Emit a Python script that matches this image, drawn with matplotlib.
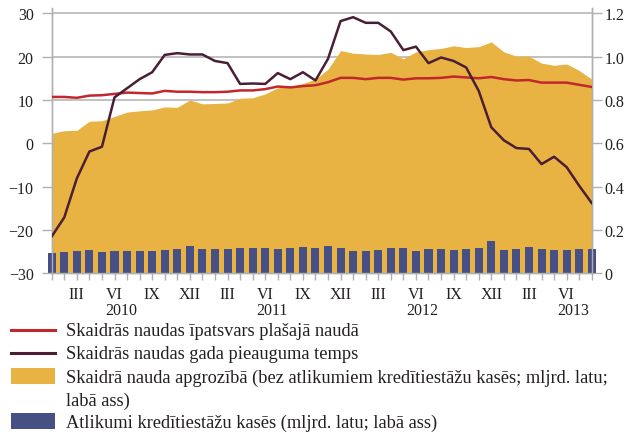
import numpy as np
import matplotlib
matplotlib.use("Agg")
import matplotlib.pyplot as plt
from matplotlib.lines import Line2D
from matplotlib.patches import Rectangle

plt.rcParams["font.family"] = ["Liberation Serif", "DejaVu Serif"]

# monthly, I.2010 - VIII.2013
months = np.arange(44)
month_labels = {2: "III", 5: "VI", 8: "IX", 11: "XII"}
years = ["2010", "2011", "2012", "2013"]

# share of cash in broad money (%, left axis)
share = [10.7, 10.7, 10.5, 11.0, 11.1, 11.4, 11.7, 11.6, 11.5, 12.1, 11.9, 11.9,
         11.8, 11.8, 11.9, 12.2, 12.2, 12.5, 13.1, 12.9, 13.2, 13.4, 14.1, 15.1,
         15.1, 14.8, 15.1, 15.1, 14.7, 15.0, 15.0, 15.1, 15.4, 15.2, 15.0, 15.3,
         14.8, 14.5, 14.6, 14.0, 14.0, 14.0, 13.5, 13.0]

# annual growth rate of cash (%, left axis)
growth = [-21.5, -17.1, -8.1, -1.9, -0.8, 10.6, 12.7, 14.8, 16.4, 20.4, 20.8, 20.5,
          20.5, 19.0, 18.5, 13.7, 13.8, 13.7, 16.2, 14.8, 16.4, 14.5, 19.5, 28.2,
          29.1, 27.8, 27.8, 25.8, 21.5, 22.3, 18.5, 19.8, 19.0, 17.5, 12.1, 3.7,
          0.7, -1.1, -1.3, -4.8, -3.1, -5.5, -9.8, -13.8]

# currency in circulation (bln lats, right axis)
circulation = [0.646, 0.658, 0.660, 0.702, 0.704, 0.724, 0.744, 0.750, 0.754, 0.768,
               0.766, 0.800, 0.782, 0.784, 0.786, 0.808, 0.810, 0.828, 0.856, 0.862,
               0.876, 0.896, 0.942, 1.028, 1.016, 1.012, 1.010, 1.020, 0.990, 1.022,
               1.032, 1.038, 1.050, 1.042, 1.046, 1.068, 1.022, 1.002, 1.002, 0.970,
               0.960, 0.966, 0.936, 0.896]

# vault cash of credit institutions (bln lats, right axis)
vault = [0.095, 0.097, 0.101, 0.109, 0.100, 0.101, 0.101, 0.101, 0.103, 0.106,
         0.111, 0.127, 0.114, 0.114, 0.111, 0.117, 0.115, 0.115, 0.112, 0.117,
         0.120, 0.115, 0.124, 0.117, 0.104, 0.103, 0.109, 0.117, 0.117, 0.104,
         0.112, 0.112, 0.108, 0.112, 0.118, 0.148, 0.109, 0.111, 0.121, 0.112,
         0.108, 0.108, 0.111, 0.111]

C_RED = "#c1272d"
C_DARK = "#4a1f36"
C_AREA = "#e8b342"
C_BAR = "#465085"
C_GRID = "#b0b0b0"
C_TEXT = "#231f20"

fig = plt.figure(figsize=(6.26, 4.35), dpi=100)
ax1 = fig.add_axes([0.0826, 0.3694, 0.8627, 0.6092])
ax2 = ax1.twinx()
ax1.set_zorder(ax2.get_zorder() + 1)
ax1.patch.set_visible(False)

# right axis: area, bars, grid
ax2.set_axisbelow(True)
ax2.grid(True, color=C_GRID, linewidth=1.1)
ax2.fill_between(months, 0, circulation, color=C_AREA, linewidth=0, zorder=2)
ax2.bar(months, vault, width=0.64, color=C_BAR, zorder=3, clip_on=False)
ax2.set_ylim(0, 1.223)
ax2.set_yticks([0, 0.2, 0.4, 0.6, 0.8, 1.0, 1.2])
ax2.set_yticklabels(["0", "0.2", "0.4", "0.6", "0.8", "1.0", "1.2"])

# left axis: lines
ax1.plot(months, share, color=C_RED, linewidth=1.8, zorder=5)
ax1.plot(months, growth, color=C_DARK, linewidth=1.8, zorder=6)
ax1.set_ylim(-30, 31.15)
ax1.set_yticks([-30, -20, -10, 0, 10, 20, 30])
ax1.set_xlim(0, 43)
ax1.set_xticks(months)
ax1.set_xticklabels([month_labels.get(m % 12, "") for m in months])

for ax in (ax1, ax2):
    for s in ax.spines.values():
        s.set_color(C_GRID)
        s.set_linewidth(1.0)
    ax.spines["top"].set_visible(False)
    ax.tick_params(colors=C_GRID, labelcolor=C_TEXT, labelsize=11.5, width=1.0)

ax1.tick_params(axis="y", length=7, pad=6)
ax2.tick_params(axis="y", length=7, pad=2)
ax1.tick_params(axis="x", length=5, pad=4)

for k, yr in enumerate(years):
    ax1.text(5.5 + 12 * k, -0.11, yr, transform=ax1.get_xaxis_transform(),
             ha="center", va="top", fontsize=11.5, color=C_TEXT)

# legend drawn below the plot
W, H = 626.0, 435.0
def fx(px):
    return px / W
def fy(py):
    return 1 - py / H

leg_fs = 13.2
fig.add_artist(Line2D([fx(11), fx(55)], [fy(331), fy(331)], color=C_RED, linewidth=2.2))
fig.text(fx(66), fy(332), "Skaidrās naudas īpatsvars plašajā naudā",
         va="center", fontsize=leg_fs, color=C_TEXT)
fig.add_artist(Line2D([fx(11), fx(55)], [fy(354), fy(354)], color=C_DARK, linewidth=2.2))
fig.text(fx(66), fy(355), "Skaidrās naudas gada pieauguma temps",
         va="center", fontsize=leg_fs, color=C_TEXT)
fig.add_artist(Rectangle((fx(11), fy(385)), fx(55) - fx(11), fy(369) - fy(385),
                         transform=fig.transFigure, color=C_AREA, linewidth=0))
fig.text(fx(66), fy(378),
         "Skaidrā nauda apgrozībā (bez atlikumiem kredītiestāžu kasēs; mljrd. latu;",
         va="center", fontsize=leg_fs, color=C_TEXT)
fig.text(fx(66), fy(401), "labā ass)", va="center", fontsize=leg_fs, color=C_TEXT)
fig.add_artist(Rectangle((fx(11), fy(430)), fx(55) - fx(11), fy(414) - fy(430),
                         transform=fig.transFigure, color=C_BAR, linewidth=0))
fig.text(fx(66), fy(423), "Atlikumi kredītiestāžu kasēs (mljrd. latu; labā ass)",
         va="center", fontsize=leg_fs, color=C_TEXT)

fig.savefig("out.png", dpi=100)
